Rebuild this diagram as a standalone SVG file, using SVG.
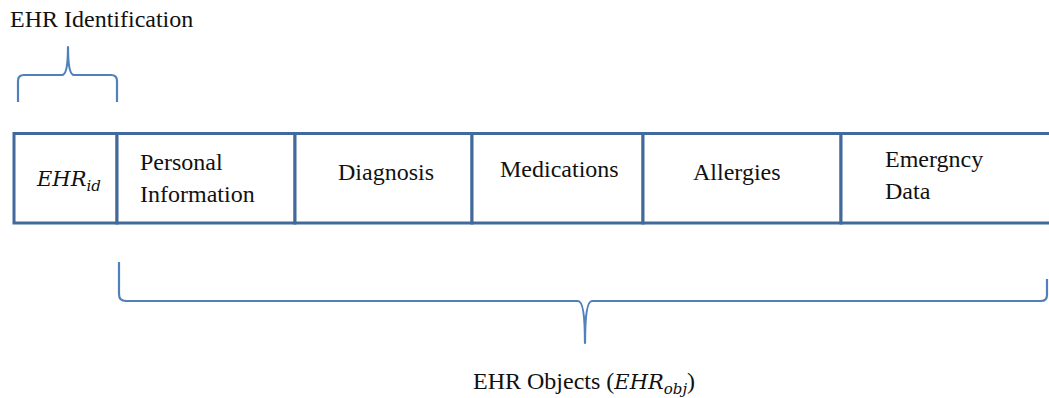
<svg xmlns="http://www.w3.org/2000/svg" width="1049" height="398" viewBox="0 0 1049 398">
  <style>
    .cell { fill: #ffffff; stroke: #41699b; stroke-width: 3; }
    .brace { fill: none; stroke: #4f81bd; stroke-width: 2.2; stroke-linejoin: round; }
    .lbl { font-family: "Liberation Serif", "Times New Roman", serif; font-size: 24px; fill: #111111; }
    .math { font-family: "DejaVu Serif", "Liberation Serif", serif; font-style: italic; fill: #111111; }
  </style>
  <rect width="1049" height="398" fill="#ffffff"/>

  <!-- Record strip: one cell per field -->
  <g id="cell-ehr-id">
    <rect class="cell" x="14" y="133.5" width="103" height="89.5"/>
    <text class="math" x="37" y="186" font-size="21">EHR<tspan font-size="15" dy="5">id</tspan></text>
  </g>
  <g id="cell-personal">
    <rect class="cell" x="117" y="133.5" width="178" height="89.5"/>
    <text class="lbl" x="140" y="170">Personal</text>
    <text class="lbl" x="140" y="202">Information</text>
  </g>
  <g id="cell-diagnosis">
    <rect class="cell" x="295" y="133.5" width="177" height="89.5"/>
    <text class="lbl" x="338" y="180">Diagnosis</text>
  </g>
  <g id="cell-medications">
    <rect class="cell" x="472" y="133.5" width="171" height="89.5"/>
    <text class="lbl" x="500" y="177">Medications</text>
  </g>
  <g id="cell-allergies">
    <rect class="cell" x="643" y="133.5" width="198" height="89.5"/>
    <text class="lbl" x="693" y="180">Allergies</text>
  </g>
  <g id="cell-emergency">
    <rect class="cell" x="841" y="133.5" width="220" height="89.5"/>
    <text class="lbl" x="885" y="167">Emergncy</text>
    <text class="lbl" x="885" y="199">Data</text>
  </g>

  <!-- Braces grouping the fields -->
  <g id="connectors">
    <path class="brace" d="M18,102 V81 Q18,75 24,75 H62 Q68,75 68,47 Q68,75 74,75 H111 Q117,75 117,81 V102"/>
    <path class="brace" d="M119,262 V294 Q119,301 126,301 H578 Q585,301 585,343 Q585,301 592,301 H1041 Q1047,301 1047,295 V279"/>
  </g>

  <g id="label-identification">
    <text class="lbl" x="10" y="27" font-size="23.5">EHR Identification</text>
  </g>
  <g id="label-objects">
    <text class="lbl" x="473" y="389">EHR Objects (<tspan class="math" font-size="21">EHR</tspan><tspan class="math" font-size="15" dy="5">obj</tspan><tspan dy="-5">)</tspan></text>
  </g>
</svg>
